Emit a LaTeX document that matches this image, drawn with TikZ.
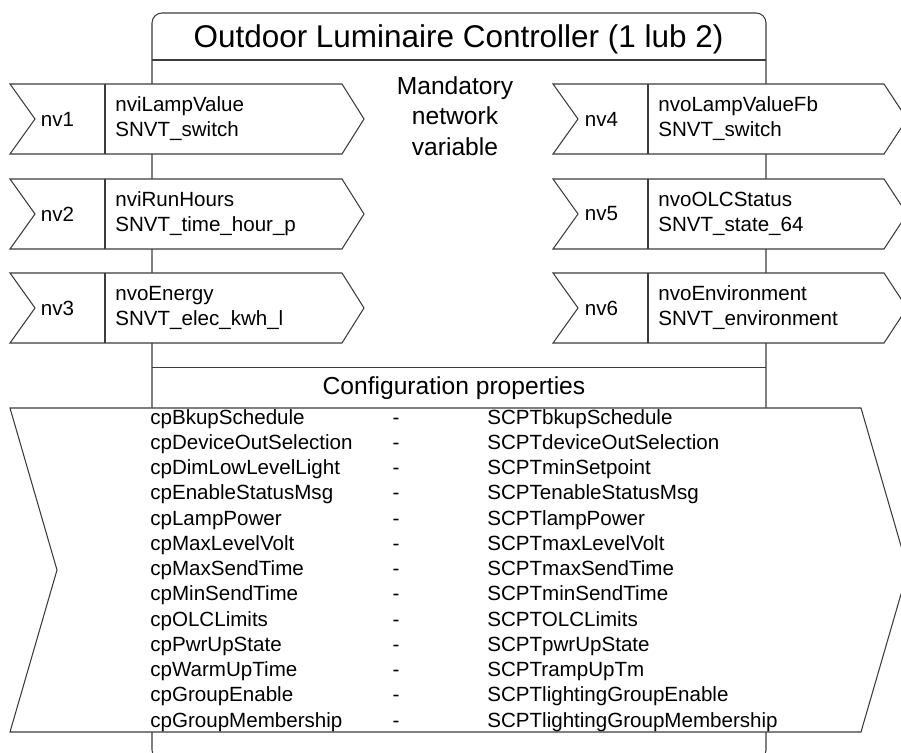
\documentclass[tikz,border=0pt]{standalone}
\usepackage{fontspec}
\setmainfont{Liberation Sans}
\usepackage{xcolor}
\usepackage{tikz}
\usetikzlibrary{positioning, calc}
\definecolor{linegray}{RGB}{60, 60, 60}

\begin{document}
\begin{tikzpicture}[
        frame/.style={draw=linegray, line width=0.6pt},
        nvbox/.style={frame, fill=white, line join=miter},
        nvtag/.style={font=\fontsize{11.7}{14}\selectfont, inner sep=0pt},
        nvtext/.style={font=\fontsize{11.7}{14}\selectfont, inner sep=0pt, anchor=base west},
        cpitem/.style={font=\fontsize{11.7}{14}\selectfont, inner sep=0pt, anchor=base west},
        heading/.style={font=\fontsize{14}{17.4}\selectfont, inner sep=0pt, align=center}
    ]
        \useasboundingbox (0,0) rectangle (18.02,15.04);
        \clip (0,0) rectangle (18.02,15.04);

        % Blocco principale
        \draw[frame, rounded corners=0.2cm] (3.04,-0.16) rectangle (15.32,14.78);
        \draw[frame] (3.04,13.84) -- (15.32,13.84);
        \draw[frame] (3.04,7.69) -- (15.32,7.69);
        \node[inner sep=0pt, font=\fontsize{17.9}{21}\selectfont] (title) at (9.17,14.26)
            {Outdoor Luminaire Controller (1 lub 2)};
        \node[heading] (mandatory) at (9.1,12.72) {Mandatory\\network\\variable};
        \node[heading] (config) at (9.08,7.27) {Configuration properties};

        % nv1
        \begin{scope}[shift={(0.2,12.66)}]
            \draw[nvbox] (0,0.7) -- (6.64,0.7) -- (7.08,0) -- (6.64,-0.7) -- (0,-0.7) -- (0.5,0) -- cycle;
            \draw[frame] (1.9,0.7) -- (1.9,-0.7);
            \node[nvtag] (nv1) at (0.95,0) {nv1};
            \node[nvtext] (nv1var) at (2.1,0.14) {nviLampValue};
            \node[nvtext] (nv1type) at (2.1,-0.36) {SNVT\_switch};
        \end{scope}

        % nv2
        \begin{scope}[shift={(0.2,10.76)}]
            \draw[nvbox] (0,0.7) -- (6.64,0.7) -- (7.08,0) -- (6.64,-0.7) -- (0,-0.7) -- (0.5,0) -- cycle;
            \draw[frame] (1.9,0.7) -- (1.9,-0.7);
            \node[nvtag] (nv2) at (0.95,0) {nv2};
            \node[nvtext] (nv2var) at (2.1,0.14) {nviRunHours};
            \node[nvtext] (nv2type) at (2.1,-0.36) {SNVT\_time\_hour\_p};
        \end{scope}

        % nv3
        \begin{scope}[shift={(0.2,8.88)}]
            \draw[nvbox] (0,0.7) -- (6.64,0.7) -- (7.08,0) -- (6.64,-0.7) -- (0,-0.7) -- (0.5,0) -- cycle;
            \draw[frame] (1.9,0.7) -- (1.9,-0.7);
            \node[nvtag] (nv3) at (0.95,0) {nv3};
            \node[nvtext] (nv3var) at (2.1,0.14) {nvoEnergy};
            \node[nvtext] (nv3type) at (2.1,-0.36) {SNVT\_elec\_kwh\_l};
        \end{scope}

        % nv4
        \begin{scope}[shift={(11.06,12.66)}]
            \draw[nvbox] (0,0.7) -- (6.62,0.7) -- (7.08,0) -- (6.62,-0.7) -- (0,-0.7) -- (0.5,0) -- cycle;
            \draw[frame] (1.9,0.7) -- (1.9,-0.7);
            \node[nvtag] (nv4) at (0.97,0) {nv4};
            \node[nvtext] (nv4var) at (2.1,0.14) {nvoLampValueFb};
            \node[nvtext] (nv4type) at (2.1,-0.36) {SNVT\_switch};
        \end{scope}

        % nv5
        \begin{scope}[shift={(11.06,10.76)}]
            \draw[nvbox] (0,0.7) -- (6.62,0.7) -- (7.08,0) -- (6.62,-0.7) -- (0,-0.7) -- (0.5,0) -- cycle;
            \draw[frame] (1.9,0.7) -- (1.9,-0.7);
            \node[nvtag] (nv5) at (0.97,0) {nv5};
            \node[nvtext] (nv5var) at (2.1,0.14) {nvoOLCStatus};
            \node[nvtext] (nv5type) at (2.1,-0.36) {SNVT\_state\_64};
        \end{scope}

        % nv6
        \begin{scope}[shift={(11.06,8.88)}]
            \draw[nvbox] (0,0.7) -- (6.62,0.7) -- (7.08,0) -- (6.62,-0.7) -- (0,-0.7) -- (0.5,0) -- cycle;
            \draw[frame] (1.9,0.7) -- (1.9,-0.7);
            \node[nvtag] (nv6) at (0.97,0) {nv6};
            \node[nvtext] (nv6var) at (2.1,0.14) {nvoEnvironment};
            \node[nvtext] (nv6type) at (2.1,-0.36) {SNVT\_environment};
        \end{scope}

        % Proprieta' di configurazione
        \draw[nvbox] (0.2,6.88) -- (17.22,6.88) -- (18.16,3.64) -- (17.22,0.40) -- (0.2,0.40) -- (1.14,3.64) -- cycle;

        \node[cpitem] (cp1) at (3.0,6.55) {cpBkupSchedule};
        \node[cpitem] (cp2) at (3.0,6.05) {cpDeviceOutSelection};
        \node[cpitem] (cp3) at (3.0,5.55) {cpDimLowLevelLight};
        \node[cpitem] (cp4) at (3.0,5.04) {cpEnableStatusMsg};
        \node[cpitem] (cp5) at (3.0,4.54) {cpLampPower};
        \node[cpitem] (cp6) at (3.0,4.03) {cpMaxLevelVolt};
        \node[cpitem] (cp7) at (3.0,3.53) {cpMaxSendTime};
        \node[cpitem] (cp8) at (3.0,3.03) {cpMinSendTime};
        \node[cpitem] (cp9) at (3.0,2.52) {cpOLCLimits};
        \node[cpitem] (cp10) at (3.0,2.02) {cpPwrUpState};
        \node[cpitem] (cp11) at (3.0,1.51) {cpWarmUpTime};
        \node[cpitem] (cp12) at (3.0,1.01) {cpGroupEnable};
        \node[cpitem] (cp13) at (3.0,0.50) {cpGroupMembership};

        \node[cpitem, anchor=base] (sep1) at (7.92,6.55) {-};
        \node[cpitem, anchor=base] (sep2) at (7.92,6.05) {-};
        \node[cpitem, anchor=base] (sep3) at (7.92,5.55) {-};
        \node[cpitem, anchor=base] (sep4) at (7.92,5.04) {-};
        \node[cpitem, anchor=base] (sep5) at (7.92,4.54) {-};
        \node[cpitem, anchor=base] (sep6) at (7.92,4.03) {-};
        \node[cpitem, anchor=base] (sep7) at (7.92,3.53) {-};
        \node[cpitem, anchor=base] (sep8) at (7.92,3.03) {-};
        \node[cpitem, anchor=base] (sep9) at (7.92,2.52) {-};
        \node[cpitem, anchor=base] (sep10) at (7.92,2.02) {-};
        \node[cpitem, anchor=base] (sep11) at (7.92,1.51) {-};
        \node[cpitem, anchor=base] (sep12) at (7.92,1.01) {-};
        \node[cpitem, anchor=base] (sep13) at (7.92,0.50) {-};

        \node[cpitem] (scpt1) at (9.74,6.55) {SCPTbkupSchedule};
        \node[cpitem] (scpt2) at (9.74,6.05) {SCPTdeviceOutSelection};
        \node[cpitem] (scpt3) at (9.74,5.55) {SCPTminSetpoint};
        \node[cpitem] (scpt4) at (9.74,5.04) {SCPTenableStatusMsg};
        \node[cpitem] (scpt5) at (9.74,4.54) {SCPTlampPower};
        \node[cpitem] (scpt6) at (9.74,4.03) {SCPTmaxLevelVolt};
        \node[cpitem] (scpt7) at (9.74,3.53) {SCPTmaxSendTime};
        \node[cpitem] (scpt8) at (9.74,3.03) {SCPTminSendTime};
        \node[cpitem] (scpt9) at (9.74,2.52) {SCPTOLCLimits};
        \node[cpitem] (scpt10) at (9.74,2.02) {SCPTpwrUpState};
        \node[cpitem] (scpt11) at (9.74,1.51) {SCPTrampUpTm};
        \node[cpitem] (scpt12) at (9.74,1.01) {SCPTlightingGroupEnable};
        \node[cpitem] (scpt13) at (9.74,0.50) {SCPTlightingGroupMembership};
    \end{tikzpicture}
\end{document}
